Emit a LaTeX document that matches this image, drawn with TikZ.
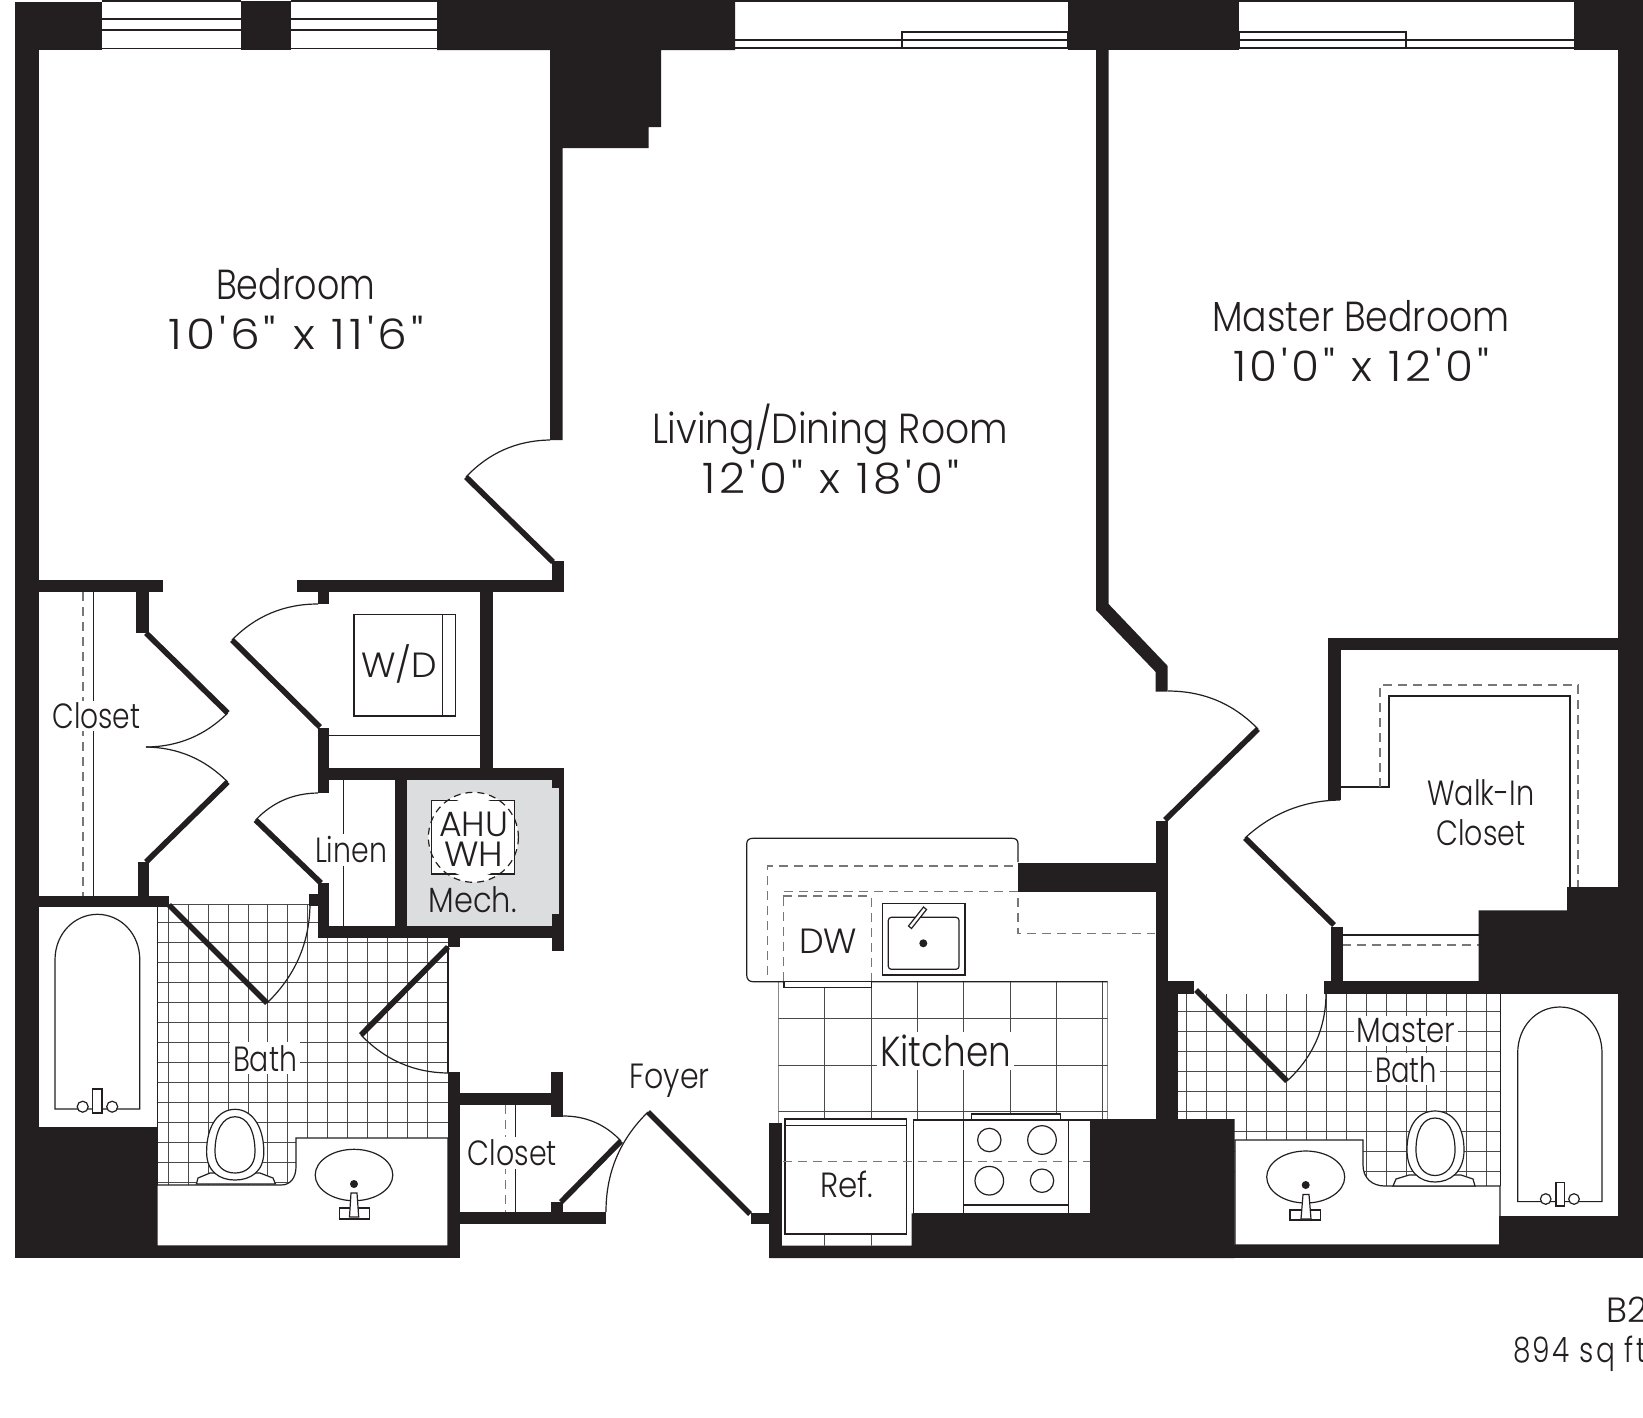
\documentclass[tikz,border=0pt]{standalone}
\usepackage{graphicx}
\usepackage{fontspec}
\setmainfont{Poppins}[UprightFont=* Light,FakeStretch=0.9]
\newfontfamily\dimfont{Poppins}[UprightFont=* Light,Ligatures=TeXOff,LetterSpace=8,WordSpace=1.0]
\usetikzlibrary{calc}
\definecolor{wallc}{HTML}{231F20}
\definecolor{tilec}{HTML}{4A4A4A}
\definecolor{mechc}{HTML}{DCDDDE}
\definecolor{dashc}{HTML}{777777}
\tikzset{
  wall/.style={fill=wallc,draw=none},
  leaf/.style={draw=wallc,line width=5.6pt},
  swingline/.style={draw=wallc,line width=1.2pt},
  thin line/.style={draw=wallc,line width=1.2pt},
  fixture/.style={draw=wallc,line width=1.2pt,fill=white},
  dashline/.style={draw=dashc,line width=1.2pt,dash pattern=on 9pt off 6pt},
  tile/.style={draw=tilec,line width=0.9pt},
  lab/.style={anchor=base,text=wallc,font=\fontsize{42}{42}\selectfont,inner sep=0pt},
  labs/.style={anchor=base,text=wallc,font=\fontsize{35}{35}\selectfont,inner sep=0pt,yshift=-1.2pt},
  labw/.style={labs,fill=white,inner sep=3pt},
}
\newcommand{\fitw}[2]{\resizebox{#1pt}{\height}{#2}}
\newcommand{\swingdoor}[3]{%
  \coordinate (sw) at ($0.586*(#2)+0.586*(#3)-0.172*(#1)$);
  \draw[swingline] (#2) .. controls ($(#2)!.667!(sw)$) and ($(#3)!.667!(sw)$) .. (#3);
  \draw[leaf] (#1) -- (#2);}
\begin{document}
\begin{tikzpicture}[x=1pt,y=-1pt]
\useasboundingbox (0,0) rectangle (1643,1417);
\clip (0,0) rectangle (1643,1417);
\fill[white] (0,0) rectangle (1643,1417);
% mech room
\fill[mechc] (407,780) rectangle (559,926);
% tiles: left bath
\begin{scope}
\clip (157,904) -- (318,904) -- (318,938) -- (448,938) -- (448,1186) -- (157,1186) -- cycle;
\foreach \k in {0,...,13} {\draw[tile] ({168.4+19.9*\k},900) -- ({168.4+19.9*\k},1186);}
\foreach \k in {0,...,13} {\draw[tile] (157,{922.3+20*\k}) -- (448,{922.3+20*\k});}
\draw[tile] (157,904.5) -- (318,904.5);
\end{scope}
\draw[thin line] (448,946) -- (448,1073);
\draw[thin line] (157.5,907) -- (157.5,1186);
% tiles: master bath
\begin{scope}
\clip (1178,994) -- (1501,994) -- (1501,1186) -- (1178,1186) -- cycle;
\foreach \k in {0,...,15} {\draw[tile] ({1186.7+20*\k},990) -- ({1186.7+20*\k},1186);}
\foreach \k in {0,...,8} {\draw[tile] (1178,{1011.4+20*\k}) -- (1501,{1011.4+20*\k});}
\end{scope}
\draw[thin line] (1500.5,994) -- (1500.5,1186);
% tiles: kitchen
\begin{scope}
\clip (778.3,981.7) -- (1107.7,981.7) -- (1107.7,1119) -- (911.7,1119) -- (911.7,1245.7) -- (778.3,1245.7) -- cycle;
\foreach \k in {0,...,6} {\draw[tile] ({778.3+46.4*\k},981) -- ({778.3+46.4*\k},1246);}
\foreach \y in {1018.3,1065,1111} {\draw[tile] (778,\y) -- (1108,\y);}
\draw[tile] (1102.7,981) -- (1102.7,1119);
\draw[tile] (1107.3,981) -- (1107.3,1119);
\end{scope}
% left bath counter
\draw[fixture] (157,1185) -- (281,1185) .. controls (291,1185) and (296,1177) .. (296,1166.7) -- (296,1138) -- (448,1138) -- (448,1246) -- (157,1246) -- cycle;
\draw[fixture] (354,1175) ellipse [x radius=38.8,y radius=25.7];
\fill[wallc] (354,1184) circle (4);
\draw[fixture] (339.3,1208) rectangle (369.4,1219);
\draw[fixture] (351,1193) -- (357,1193) -- (358.7,1217) -- (349.5,1217) -- cycle;
% left toilet
\draw[fixture] (196.4,1184) -- (198,1178) -- (210,1173) -- (260,1173) -- (273,1178) -- (275.5,1184) -- cycle;
\draw[fixture] (235,1109.3) .. controls (251,1109.3) and (263.8,1125) .. (263.8,1152) .. controls (263.8,1172) and (250,1180) .. (235,1180) .. controls (220,1180) and (206.6,1172) .. (206.6,1152) .. controls (206.6,1125) and (219,1109.3) .. (235,1109.3) -- cycle;
\draw[fixture] (235,1116.7) .. controls (247,1116.7) and (255,1130) .. (255,1152) .. controls (255,1166) and (246,1173) .. (235,1173) .. controls (224,1173) and (215,1166) .. (215,1152) .. controls (215,1130) and (223,1116.7) .. (235,1116.7) -- cycle;
% left tub
\draw[thin line] (55,1109) -- (55,960) .. controls (55,933) and (75,914.3) .. (97.4,914.3) .. controls (120,914.3) and (139.8,933) .. (139.8,960) -- (139.8,1109) -- cycle;
\draw[fixture] (82.7,1106.7) circle (5.5);
\draw[fixture] (112.2,1106.7) circle (5.5);
\draw[fixture] (92.3,1089) rectangle (102,1113);
% master bath counter
\draw[fixture] (1235,1140) -- (1363,1140) -- (1363,1165) .. controls (1363,1178) and (1372,1186) .. (1385,1186) -- (1500,1186) -- (1500,1245) -- (1235,1245) -- cycle;
\draw[fixture] (1305.7,1177) ellipse [x radius=39,y radius=26];
\fill[wallc] (1305.7,1185) circle (4);
\draw[fixture] (1290,1210) rectangle (1320.7,1220);
\draw[fixture] (1303,1194.5) -- (1309,1194.5) -- (1311,1219) -- (1301,1219) -- cycle;
% master toilet
\draw[fixture] (1393,1186) -- (1396,1179) -- (1409,1175) -- (1461,1175) -- (1473,1179) -- (1475,1186) -- cycle;
\draw[fixture] (1435,1111) .. controls (1452,1111) and (1464,1125) .. (1464,1150) .. controls (1464,1172) and (1450,1182) .. (1435,1182) .. controls (1420,1182) and (1407,1172) .. (1407,1150) .. controls (1407,1125) and (1418,1111) .. (1435,1111) -- cycle;
\draw[fixture] (1435,1118) .. controls (1447,1118) and (1455,1130) .. (1455,1150) .. controls (1455,1166) and (1446,1175.5) .. (1435,1175.5) .. controls (1424,1175.5) and (1416,1166) .. (1416,1150) .. controls (1416,1130) and (1423,1118) .. (1435,1118) -- cycle;
% master tub
\draw[thin line] (1517.7,1201.6) -- (1517.7,1053) .. controls (1517.7,1027) and (1536,1007) .. (1559.8,1007) .. controls (1584,1007) and (1602,1027) .. (1602,1053) -- (1602,1201.6) -- cycle;
\draw[fixture] (1545.7,1199) circle (5.3);
\draw[fixture] (1574,1199) circle (5.3);
\draw[fixture] (1556,1182.7) rectangle (1564.3,1206);
% kitchen counter
\draw[thin line] (1018,862) -- (1018,844) .. controls (1018,840) and (1016,838.3) .. (1012,838.3) -- (753,838.3) .. controls (749,838.3) and (746.7,840) .. (746.7,844) -- (746.7,975) .. controls (746.7,979) and (749,981.7) .. (753,981.7) -- (1107.7,981.7);
\draw[dashline] (767.7,975) -- (767.7,866) -- (1018,866);
\draw[dashline] (783.3,981) -- (783.3,891.7) -- (1018,891.7) -- (1018,933.3) -- (1155,933.3);
\draw[dashline] (783.3,896) -- (871.7,896) -- (871.7,981);
\draw[fixture] (784,981.7) rectangle (871.7,987.7);
\draw[fixture,line width=1.5pt] (882.3,903.3) rectangle (965,975);
\draw[fixture,rounded corners=3pt] (888.3,917.3) rectangle (959,969.3);
\fill[wallc] (923.3,943.3) circle (4);
\draw[fixture] (908.5,926) -- (911.5,928.5) -- (926.5,909.5) -- (923.5,907) -- cycle;
% ref
\draw[fixture,line width=1.5pt] (785,1119) rectangle (906.7,1234);
\draw[thin line] (785,1125.7) -- (906.7,1125.7);
% counter + stove
\draw[fixture] (913.3,1120) rectangle (1090.7,1213.3);
\draw[fixture] (971.3,1114) rectangle (1060.7,1120);
\draw[dashline] (783,1161.7) -- (1090,1161.7);
\draw[thin line] (963.7,1120) -- (963.7,1213.3);
\draw[thin line] (1068.3,1120) -- (1068.3,1213.3);
\draw[thin line] (963.7,1205) -- (1068.3,1205);
\draw[thin line] (989.3,1140) circle (11.7);
\draw[thin line] (1042,1140) circle (14.3);
\draw[thin line] (989.3,1180.7) circle (14.3);
\draw[thin line] (1042,1180.7) circle (11.7);
% closets and shelves
\draw[thin line] (93.4,592) -- (93.4,896);
\draw[dashline] (83,592) -- (83,896);
\draw[thin line] (343.7,780) -- (343.7,926);
\draw[thin line] (329,735.7) -- (480,735.7);
\draw[fixture] (354,614.3) rectangle (455.4,716);
\draw[thin line] (442.8,614.3) -- (442.8,716);
\draw[thin line] (515.3,1105) -- (515.3,1212);
\draw[dashline] (505.6,1105) -- (505.6,1212);
\draw[thin line] (1341,787) -- (1389,787) -- (1389,696) -- (1570,696) -- (1570,887);
\draw[dashline] (1380,787) -- (1380,685) -- (1578,685) -- (1578,887);
\draw[thin line] (1342,935) -- (1479,935);
\draw[dashline] (1342,945) -- (1479,945);
% AHU
\fill[white] (473.4,837.3) circle (45);
\draw[fixture,line width=1.4pt] (431.7,800.7) rectangle (514.7,874);
\fill[white] (473.4,837.3) circle (40);
\draw[draw=wallc,line width=1.2pt,dash pattern=on 7pt off 5pt] (473.4,837.3) circle (45);
% window lines
\foreach \a/\b in {101.5/241,291/437} {
  \draw[thin line] (\a,1) -- (\b,1);
  \draw[thin line] (\a,19) -- (\b,19);
  \draw[thin line,line width=1.6pt] (\a,30) -- (\b,30);
  \draw[thin line,line width=1.6pt] (\a,48.5) -- (\b,48.5);
}
\draw[thin line] (735,1) -- (1068,1);
\draw[thin line] (1239,1) -- (1575,1);
\draw[thin line,line width=1.6pt] (735,39.7) -- (1068,39.7);
\draw[thin line,line width=2.4pt] (735,48) -- (1068,48);
\draw[thin line,line width=1.6pt] (1239,39.7) -- (1575,39.7);
\draw[thin line,line width=2.4pt] (1239,48) -- (1575,48);
\draw[fixture,line width=1.4pt] (902,32) rectangle (1068,48);
\draw[thin line,line width=1.6pt] (902,39.7) -- (1068,39.7);
\draw[fixture,line width=1.4pt] (1239,32) rectangle (1406,48);
\draw[thin line,line width=1.6pt] (1239,39.7) -- (1406,39.7);
% top walls
\fill[wall] (14.7,1.5) rectangle (101.5,50);
\fill[wall] (241,1) rectangle (291,50);
\fill[wall] (437,0) -- (735,0) -- (735,50) -- (661,50) -- (661,127) -- (648.5,127) -- (648.5,148) -- (562.5,148) -- (562.5,440) -- (550,440) -- (550,50) -- (437,50) -- cycle;
\fill[wall] (1068,0) rectangle (1239,50);
\fill[wall] (1574,0) rectangle (1643,50);
% perimeter
\fill[wall] (14.7,50) rectangle (39.4,1258);
\fill[wall] (1618,50) rectangle (1643,1258);
\fill[wall] (14.7,1126.7) rectangle (157.4,1258);
\fill[wall] (157,1245.7) rectangle (459.7,1258);
\fill[wall] (448,1072) rectangle (459.7,1258);
% closet + laundry walls
\fill[wall] (39,580) rectangle (163,592);
\fill[wall] (136,592) rectangle (148.5,632.7);
\fill[wall] (137.8,862) rectangle (149,896);
\fill[wall] (39,895.7) rectangle (169,907);
\fill[wall] (296.6,580) rectangle (563.7,592);
\fill[wall] (552,560.5) rectangle (563.7,592);
\fill[wall] (317.6,592) rectangle (329,604);
\fill[wall] (317.6,728) rectangle (329,793);
\fill[wall] (480,592) rectangle (492.5,770);
\fill[wall] (317.6,768) rectangle (563.7,780);
\fill[wall] (552,780) rectangle (563.7,788);
\fill[wall] (558.7,788) rectangle (563.7,914);
\fill[wall] (552,914) rectangle (563.7,950.7);
\fill[wall] (318.4,883) rectangle (329,938);
\fill[wall] (309,894) rectangle (318.4,905.7);
\fill[wall] (318.4,926) rectangle (552,938);
\fill[wall] (395,780) rectangle (406.8,926);
\fill[wall] (448,938) rectangle (459.7,947);
% foyer closet
\fill[wall] (459.7,1092.7) rectangle (563,1105);
\fill[wall] (551,1072) rectangle (563,1116.7);
\fill[wall] (551,1201.7) rectangle (563,1215);
\fill[wall] (459.7,1212.3) rectangle (606,1224);
% kitchen and east walls
\fill[wall] (750.7,1212.7) rectangle (770,1224);
\fill[wall] (769.3,1123) rectangle (781.7,1258);
\fill[wall] (769.3,1245.7) -- (911.7,1245.7) -- (911.7,1213.3) -- (1090.7,1213.3) -- (1090.7,1119) -- (1234.7,1119) -- (1234.7,1258) -- (769.3,1258) -- cycle;
\fill[wall] (1018.3,862.7) rectangle (1155.7,891.7);
\fill[wall] (1096,50) -- (1108.6,50) -- (1108.6,604) -- (1167.7,666) -- (1167.7,691.5) -- (1155.7,691.5) -- (1155.7,672) -- (1096,610) -- cycle;
\fill[wall] (1155.7,821) rectangle (1167.7,1119);
\fill[wall] (1168,981) rectangle (1194,994);
\fill[wall] (1167,994) rectangle (1178,1119);
% walk-in walls
\fill[wall] (1328,637.7) rectangle (1618,650);
\fill[wall] (1328,650) rectangle (1340.7,800);
\fill[wall] (1330.7,927) rectangle (1342.7,990);
\fill[wall] (1324,981) rectangle (1618,994);
\fill[wall] (1567,887) -- (1618,887) -- (1618,981) -- (1478.7,981) -- (1478.7,910.4) -- (1567,910.4) -- cycle;
\fill[wall] (1499,1216) rectangle (1643,1258);
\fill[wall] (1234,1245) rectangle (1500,1258);
% doors
\coordinate (bedH) at (553,562); \coordinate (bedA) at (466,477); \coordinate (bedB) at (550,440);
\swingdoor{bedH}{bedA}{bedB}
\coordinate (cuH) at (146,633); \coordinate (cuA) at (227.7,713); \coordinate (cuB) at (146,747);
\swingdoor{cuH}{cuA}{cuB}
\coordinate (clH) at (146,862); \coordinate (clA) at (227.7,782); \coordinate (clB) at (146,747);
\swingdoor{clH}{clA}{clB}
\coordinate (wdH) at (320,727); \coordinate (wdA) at (232,640); \coordinate (wdB) at (318,604);
\swingdoor{wdH}{wdA}{wdB}
\coordinate (liH) at (321,883); \coordinate (liA) at (255.6,820); \coordinate (liB) at (318,793);
\swingdoor{liH}{liA}{liB}
\coordinate (baH) at (169,905); \coordinate (baA) at (267,1003); \coordinate (baB) at (310,905);
\swingdoor{baH}{baA}{baB}
\coordinate (bbH) at (448,947); \coordinate (bbA) at (361,1035); \coordinate (bbB) at (448,1073);
\swingdoor{bbH}{bbA}{bbB}
\coordinate (fcH) at (561,1202); \coordinate (fcA) at (621,1141); \coordinate (fcB) at (563,1116);
\swingdoor{fcH}{fcA}{fcB}
\coordinate (foH) at (750,1214); \coordinate (foA) at (648,1112); \coordinate (foB) at (606,1212);
\swingdoor{foH}{foA}{foB}
\coordinate (mbH) at (1165,820); \coordinate (mbA) at (1258,729); \coordinate (mbB) at (1168,691);
\swingdoor{mbH}{mbA}{mbB}
\coordinate (wiH) at (1334,925); \coordinate (wiA) at (1245,838); \coordinate (wiB) at (1340,800);
\swingdoor{wiH}{wiA}{wiB}
\coordinate (mtH) at (1196,990); \coordinate (mtA) at (1287,1081); \coordinate (mtB) at (1326,994);
\swingdoor{mtH}{mtA}{mtB}
% labels
\node[lab] (t1) at (295.5,299.3) {\fitw{159}{Bedroom}};
\node[lab] (t2) at (296.5,349) {\fitw{255}{\dimfont 10'6" x 11'6"}};
\node[lab] (t3) at (1361,331) {\fitw{297}{Master Bedroom}};
\node[lab] (t4) at (1361,381.7) {\fitw{256}{\dimfont 10'0" x 12'0"}};
\node[lab] (t5) at (830,443.3) {\fitw{356}{Living/Dining Room}};
\node[lab] (t6) at (831,493.7) {\fitw{256}{\dimfont 12'0" x 18'0"}};
\node[labs,fill=white,inner sep=2pt] (t7) at (96.4,727.7) {\fitw{88}{Closet}};
\node[labs] (t8) at (399,676.7) {\fitw{76}{W/D}};
\node[labw] (t9) at (351,861.7) {\fitw{72}{Linen}};
\node[labs] (t10) at (473.6,835) {\fitw{69}{AHU}};
\node[labs] (t11) at (473.6,865) {\fitw{59}{WH}};
\node[labs] (t12) at (472.6,911.7) {\fitw{88}{Mech.}};
\node[labw] (t13) at (265,1070) {\fitw{64}{Bath}};
\node[labw] (t14) at (512.4,1164.3) {\fitw{89}{Closet}};
\node[labs] (t15) at (669.6,1087.3) {\fitw{80}{Foyer}};
\node[labs] (t16) at (828,952.3) {\fitw{58}{DW}};
\node[labw,font=\fontsize{42}{42}\selectfont] (t17) at (945.5,1065) {\fitw{131}{Kitchen}};
\node[labs] (t18) at (847,1196) {\fitw{53}{Ref.}};
\node[labs] (t19) at (1481,804.3) {\fitw{107}{Walk-In}};
\node[labs] (t20) at (1481,844.3) {\fitw{89}{Closet}};
\node[labw] (t21) at (1406,1041.7) {\fitw{98.5}{Master}};
\node[labw] (t22) at (1406,1081) {\fitw{62}{Bath}};
\node[labs,anchor=base west,yshift=1.2pt] (t23) at (1606,1322) {\fitw{41}{B2}};
\node[labs,anchor=base west,yshift=1.2pt] (t24) at (1513,1362) {\fitw{133}{\dimfont 894 sq ft}};
\end{tikzpicture}
\end{document}
